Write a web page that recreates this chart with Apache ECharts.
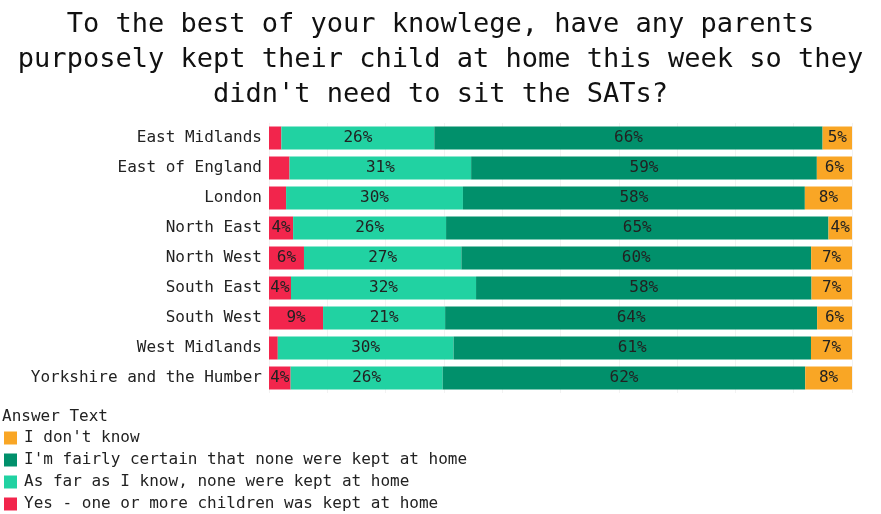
<!DOCTYPE html>
<html><head><meta charset="utf-8">
<script src="https://cdn.jsdelivr.net/npm/echarts@6/dist/echarts.min.js"></script>
<style>html,body{margin:0;padding:0;background:#fff}#c{width:881px;height:514px}</style>
</head><body><div id="c"></div>
<script>
const categories = ["East Midlands","East of England","London","North East","North West","South East","South West","West Midlands","Yorkshire and the Humber"];
const yesKept = [2.1, 3.5, 2.9, 4.1, 6.0, 3.8, 9.3, 1.5, 3.7];
const asFarAsIKnow = [26, 31, 30, 26, 27, 32, 21, 30, 26];
const fairlyCertain = [66, 59, 58, 65, 60, 58, 64, 61, 62];
const dontKnow = [5, 6, 8, 4, 7, 7, 6, 7, 8];
const seriesNames = ["Yes - one or more children was kept at home","As far as I know, none were kept at home","I'm fairly certain that none were kept at home","I don't know"];
const colors = ["#F2254C","#21D2A2","#01906B","#F9A625"];
const FONT = "DejaVu Sans Mono";

const raw = [yesKept, asFarAsIKnow, fairlyCertain, dontKnow];
const totals = categories.map((_, i) => raw.reduce((s, a) => s + a[i], 0));
const pct = raw.map(a => a.map((v, i) => v / totals[i] * 100));

const chart = echarts.init(document.getElementById('c'));
chart.setOption({
  animation: false,
  title: [{
    text: "To the best of your knowlege, have any parents\npurposely kept their child at home this week so they\ndidn't need to sit the SATs?",
    left: 'center', top: 2,
    textStyle: {fontFamily: FONT, fontSize: 27, fontWeight: 'normal', color: '#111', lineHeight: 35}
  }, {
    text: 'Answer Text', left: 0, top: 409, padding: [0,0,0,2],
    textStyle: {fontFamily: FONT, fontSize: 16, fontWeight: 'normal', color: '#222'}
  }],
  legend: {
    orient: 'vertical', left: 0, top: 430, height: 90, padding: [0,0,0,4],
    itemWidth: 13, itemHeight: 13, itemGap: 6,
    data: [seriesNames[3], seriesNames[2], seriesNames[1], seriesNames[0]],
    icon: 'rect',
    textStyle: {fontFamily: FONT, fontSize: 16, color: '#222', padding: [0,0,0,2]}
  },
  grid: {left: 269, right: 29, top: 123, height: 270, containLabel: false},
  xAxis: {
    type: 'value', min: 0, max: 100, interval: 10,
    axisLabel: {show: false}, axisLine: {show: false}, axisTick: {show: false},
    splitLine: {show: true, lineStyle: {color: '#f2f2f2', width: 1}}
  },
  yAxis: {
    type: 'category', data: categories, inverse: true,
    axisLine: {show: false}, axisTick: {show: false},
    axisLabel: {fontFamily: FONT, fontSize: 16, color: '#222', margin: 7}
  },
  series: pct.map((d, k) => ({
    name: seriesNames[k], type: 'bar', stack: 'all', data: d,
    barWidth: 23, itemStyle: {color: colors[k]},
    label: {
      show: true, position: 'inside', fontFamily: FONT, fontSize: 16, color: '#222',
      formatter: p => (raw[k][p.dataIndex] >= 3.6 ? Math.round(raw[k][p.dataIndex]) + '%' : '')
    }
  }))
});
</script></body></html>
